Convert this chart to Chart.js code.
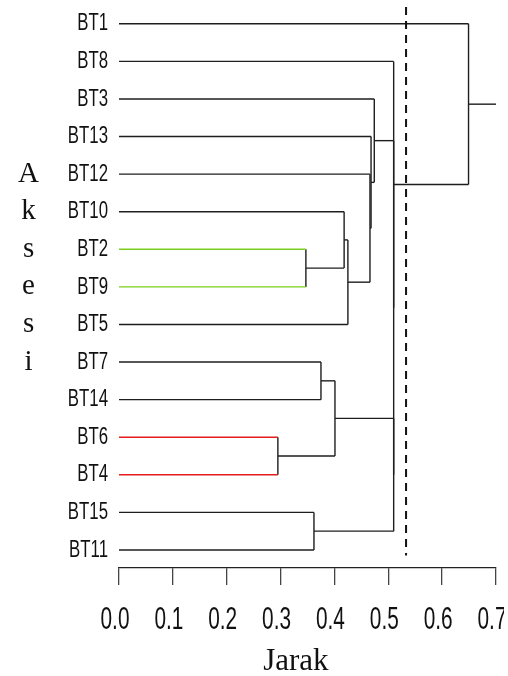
<!DOCTYPE html>
<html>
<head>
<meta charset="utf-8">
<script src="https://cdn.jsdelivr.net/npm/chart.js@4.4.1/dist/chart.umd.min.js"></script>
<style>
html,body{margin:0;padding:0;background:#ffffff;}
canvas{display:block;}
</style>
</head>
<body>
<canvas id="c" width="508" height="676"></canvas>
<script>
// ---- data ----
const leaves = ['BT1','BT8','BT3','BT13','BT12','BT10','BT2','BT9','BT5','BT7','BT14','BT6','BT4','BT15','BT11'];
// merge k (1-based) is called 'm'+k
const mergeLeft   = ['BT6','BT2','BT15','BT7','m4','BT10','m6','BT12','BT13','BT3','m5','m10','BT8','BT1'];
const mergeRight  = ['BT4','BT9','BT11','BT14','m1','m2','BT5','m7','m8','m9','m3','m11','m12','m13'];
const mergeHeight = [0.295,0.347,0.362,0.375,0.401,0.418,0.425,0.466,0.468,0.474,0.510,0.510,0.510,0.649];
const greenLeaves = ['BT2','BT9'];
const redLeaves   = ['BT6','BT4'];
const cutHeight = 0.533;
const rootEnd = 0.7;
const xTicks = [0,0.1,0.2,0.3,0.4,0.5,0.6,0.7];
const xTickLabels = ['0.0','0.1','0.2','0.3','0.4','0.5','0.6','0.7'];
const xTitle = 'Jarak';
const yTitle = 'Aksesi';
const yTitleStartLeaf = 'BT12';

// ---- layout of the tree (leaf order index on y, merge height on x) ----
const nodePos = {}, nodeH = {};
leaves.forEach((n,i)=>{nodePos[n]=i; nodeH[n]=0;});
const BLACK = '#1e1e1e', GREEN = '#7ccf1e', RED = '#e41c1c';
function leafColor(n){ return greenLeaves.includes(n)?GREEN:(redLeaves.includes(n)?RED:BLACK); }
const segs = [];
mergeLeft.forEach((a,k)=>{
  const b = mergeRight[k], h = mergeHeight[k], id = 'm'+(k+1);
  const ya = nodePos[a], yb = nodePos[b];
  segs.push({p:[{x:nodeH[a],y:ya},{x:h,y:ya}], c:leafColor(a)});
  segs.push({p:[{x:nodeH[b],y:yb},{x:h,y:yb}], c:leafColor(b)});
  segs.push({p:[{x:h,y:ya},{x:h,y:yb}], c:BLACK});
  nodePos[id] = (ya+yb)/2; nodeH[id] = h;
});
const rootId = 'm'+mergeLeft.length;
segs.push({p:[{x:nodeH[rootId],y:nodePos[rootId]},{x:rootEnd,y:nodePos[rootId]}], c:BLACK});

const datasets = segs.map(s=>({
  data:s.p, showLine:true, borderColor:s.c, borderWidth:1.4, pointRadius:0, clip:false, order:s.c===BLACK?2:1
}));
datasets.push({
  data:[{x:cutHeight,y:-0.45},{x:cutHeight,y:leaves.length-1+0.15}],
  showLine:true, borderColor:'#111', borderWidth:2, borderDash:[8,6], pointRadius:0, clip:false, order:0
});

const titleLetters = yTitle.split('');
const titleStart = leaves.indexOf(yTitleStartLeaf);

const sans = "'Liberation Sans',Arial,sans-serif";
const serif = "'Liberation Serif','Times New Roman',serif";

// condensed (narrow) look for tick labels: each label is squeezed horizontally about its anchor
function condense(s, sx, dx){
  if (s._condensed) return;
  s._condensed = true;
  const orig = s.drawLabels.bind(s);
  s.drawLabels = function(area){
    const c = this.ctx;
    const fill = c.fillText;
    c.save(); c.translate(dx,0);
    c.fillText = function(t,x,y){ this.save(); this.translate(x,y); this.scale(sx,1); fill.call(this,t,0,0); this.restore(); };
    orig(area);
    c.fillText = fill;
    c.restore();
  };
}

new Chart(document.getElementById('c'), {
  type:'scatter',
  data:{datasets},
  options:{
    responsive:false, animation:false, events:[],
    layout:{padding:{top:5,left:0,right:12,bottom:0}},
    plugins:{legend:{display:false}, tooltip:{enabled:false}},
    scales:{
      x:{
        type:'linear', min:0, max:0.7,
        afterBuildTicks:s=>{ s.ticks = xTicks.map(v=>({value:v})); },
        afterFit:s=>{ s.paddingLeft=0; s.paddingRight=0; s.height=108; condense(s,0.65,-4); },
        ticks:{callback:(v,i)=>xTickLabels[i], font:{family:sans,size:32}, color:'#111', padding:16, maxRotation:0, minRotation:0, autoSkip:false},
        grid:{display:true, drawOnChartArea:false, drawTicks:true, tickLength:17, color:'#444', lineWidth:1.3},
        border:{display:true, color:'#222', width:1.3},
        title:{display:true, text:xTitle+'   ', font:{family:serif,size:31,lineHeight:0.9}, color:'#111', padding:{top:0,bottom:0}}
      },
      y:{
        type:'linear', position:'left', reverse:true, min:-0.5, max:14.48, weight:0,
        afterBuildTicks:s=>{ s.ticks = leaves.map((_,i)=>({value:i})); },
        afterFit:s=>{ s.width=63; s.paddingTop=0; s.paddingBottom=0; condense(s,0.7,0); },
        ticks:{callback:v=>leaves[v], font:{family:sans,size:24}, color:'#111', padding:11, autoSkip:false},
        grid:{display:false, drawTicks:false}, border:{display:false}
      },
      yt:{
        type:'linear', position:'left', reverse:true, min:-0.5, max:14.48, weight:1,
        afterBuildTicks:s=>{ s.ticks = titleLetters.map((_,i)=>({value:titleStart+i})); },
        afterFit:s=>{ s.width=56; s.paddingTop=0; s.paddingBottom=0; },
        ticks:{callback:v=>titleLetters[v-titleStart], font:{family:serif,size:29}, color:'#111', padding:17, crossAlign:'center', autoSkip:false},
        grid:{display:false, drawTicks:false}, border:{display:false}
      }
    }
  }
});
</script>
</body>
</html>
